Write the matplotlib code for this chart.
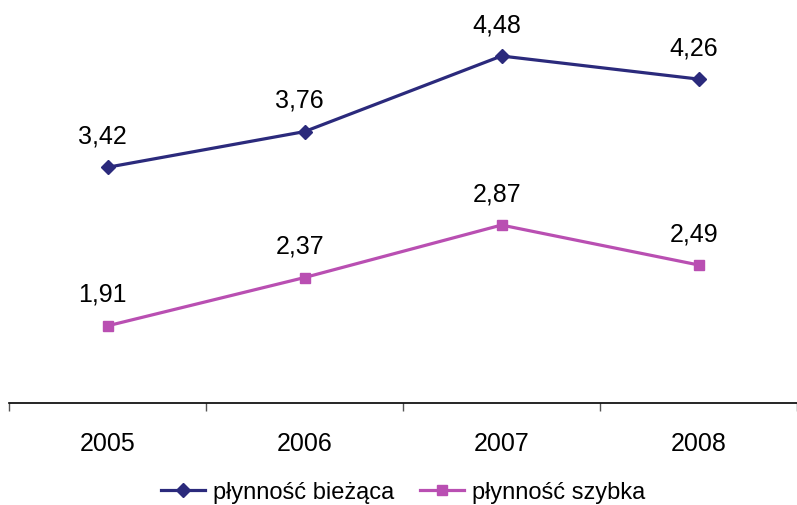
import matplotlib
matplotlib.use("Agg")
import matplotlib.pyplot as plt
import numpy as np

years = ["2005", "2006", "2007", "2008"]
biezaca = [3.42, 3.76, 4.48, 4.26]
szybka = [1.91, 2.37, 2.87, 2.49]
labels_biezaca = ["3,42", "3,76", "4,48", "4,26"]
labels_szybka = ["1,91", "2,37", "2,87", "2,49"]
series_names = ["płynność bieżąca", "płynność szybka"]

plt.rcParams['font.family'] = ['Liberation Sans', 'DejaVu Sans']

W, H = 797, 506
fig = plt.figure(figsize=(W / 100, H / 100), dpi=100)
ax = fig.add_axes([9 / W, (H - 404) / H, (W - 9) / W, 404 / H])

x = np.arange(len(years))
c1 = "#2B2A7C"
c2 = "#B94FB2"
ax.plot(x, biezaca, color=c1, lw=2.3, marker="D", ms=7, label=series_names[0])
ax.plot(x, szybka, color=c2, lw=2.3, marker="s", ms=7, label=series_names[1])

for xi, v, t in zip(x, biezaca, labels_biezaca):
    ax.annotate(t, (xi, v), xytext=(-3.5, 23), textcoords="offset points",
                ha="center", va="center", fontsize=18)
for xi, v, t in zip(x, szybka, labels_szybka):
    ax.annotate(t, (xi, v), xytext=(-3.5, 23), textcoords="offset points",
                ha="center", va="center", fontsize=18)

ax.set_xlim(-0.5, -0.5 + (W - 9) / 199.2)
ax.set_ylim(4.48 - 347 / 105.0, 4.48 + 57 / 105.0)

for s in ["top", "right", "left"]:
    ax.spines[s].set_visible(False)
ax.spines["bottom"].set_linewidth(1.2)
ax.set_yticks([])
ax.set_xticks(x)
ax.set_xticklabels(years, fontsize=18)
ax.tick_params(axis="x", which="major", length=0, pad=20)
ax.set_xticks(np.arange(-0.5, 4.0, 1.0), minor=True)
ax.tick_params(axis="x", which="minor", length=6, width=1, color="#555555", direction="out")

fig.legend(loc="center", bbox_to_anchor=(403 / W, 1 - 493 / H), ncol=2, frameon=False,
           fontsize=17, handlelength=1.86, columnspacing=1.1, handletextpad=0.34,
           borderaxespad=0)

fig.savefig("out.png", dpi=100)
